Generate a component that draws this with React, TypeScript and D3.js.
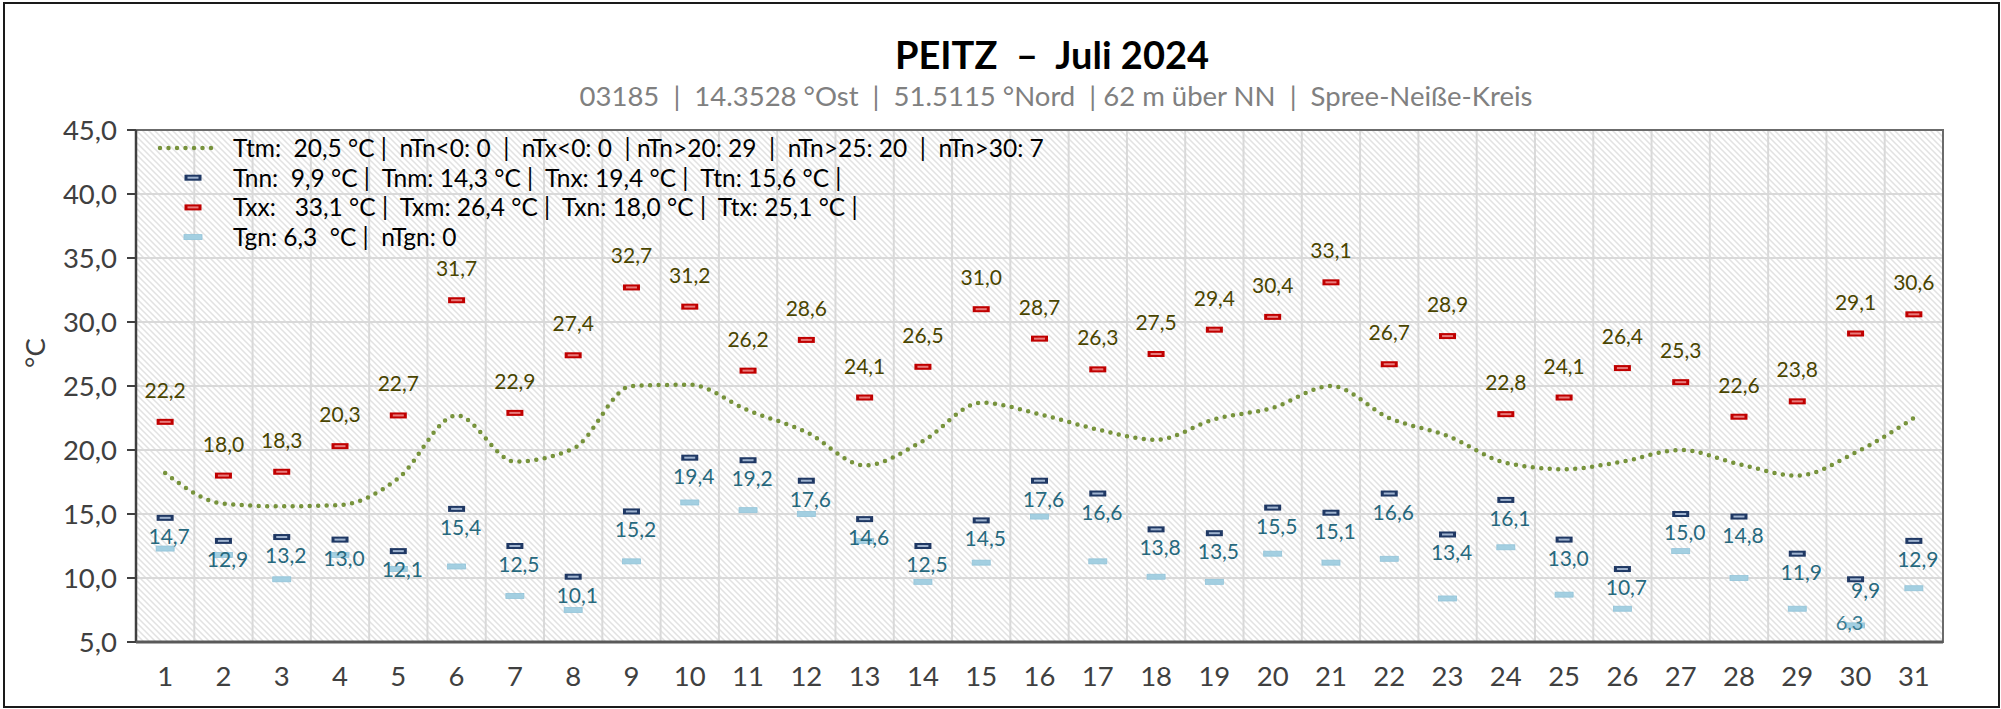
import React from 'react';
import * as d3 from 'd3';

// Peitz, Juli 2024 - Tageswerte
const days = d3.range(1, 32);
const tMax = [22.2, 18.0, 18.3, 20.3, 22.7, 31.7, 22.9, 27.4, 32.7, 31.2, 26.2, 28.6, 24.1, 26.5, 31.0, 28.7, 26.3, 27.5, 29.4, 30.4, 33.1, 26.7, 28.9, 22.8, 24.1, 26.4, 25.3, 22.6, 23.8, 29.1, 30.6];
const tMin = [14.7, 12.9, 13.2, 13.0, 12.1, 15.4, 12.5, 10.1, 15.2, 19.4, 19.2, 17.6, 14.6, 12.5, 14.5, 17.6, 16.6, 13.8, 13.5, 15.5, 15.1, 16.6, 13.4, 16.1, 13.0, 10.7, 15.0, 14.8, 11.9, 9.9, 12.9];
const tGround = [12.3, 11.8, 9.9, 11.8, 10.7, 10.9, 8.6, 7.5, 11.3, 15.9, 15.3, 15.0, 12.9, 9.7, 11.2, 14.8, 11.3, 10.1, 9.7, 11.9, 11.2, 11.5, 8.4, 12.4, 8.7, 7.6, 12.1, 10.0, 7.6, 6.3, 9.2];
const tMean = [18.2, 15.8, 15.6, 15.7, 17.8, 22.7, 19.1, 20.1, 25.0, 25.1, 23.1, 21.4, 18.8, 20.7, 23.7, 22.8, 21.6, 20.8, 22.4, 23.3, 25.0, 22.5, 21.1, 19.0, 18.5, 19.1, 20.0, 18.9, 18.0, 19.8, 22.5];
const yTicks = [5, 10, 15, 20, 25, 30, 35, 40, 45];

const title = 'PEITZ  –  Juli 2024';
const subtitle = '03185  |  14.3528 °Ost  |  51.5115 °Nord  | 62 m über NN  |  Spree-Neiße-Kreis';
const legendRows = [
  'Ttm:  20,5 °C |  nTn<0: 0  |  nTx<0: 0  | nTn>20: 29  |  nTn>25: 20  |  nTn>30: 7',
  'Tnn:  9,9 °C |  Tnm: 14,3 °C |  Tnx: 19,4 °C |  Ttn: 15,6 °C |',
  'Txx:   33,1 °C |  Txm: 26,4 °C |  Txn: 18,0 °C |  Ttx: 25,1 °C |',
  'Tgn: 6,3  °C |  nTgn: 0',
];

const W = 2001;
const H = 709;
const font = "Lato, 'Liberation Sans', sans-serif";
const fmt = (v: number) => v.toFixed(1).replace('.', ',');

const Dash = ({ cx, cy, kind }: { cx: number; cy: number; kind: string }) => {
  if (kind === 'max')
    return (
      <g>
        <rect x={cx - 8.5} y={cy - 3} width={17} height={6} fill="#c00000" />
        <rect x={cx - 5.5} y={cy - 1} width={11} height={2} fill="#e87b7b" />
      </g>
    );
  if (kind === 'min')
    return (
      <g>
        <rect x={cx - 8.5} y={cy - 3} width={17} height={6} fill="#1f3864" />
        <rect x={cx - 5.5} y={cy - 1} width={11} height={2} fill="#9fb3cf" />
      </g>
    );
  return <rect x={cx - 9} y={cy - 2.5} width={18} height={5} fill="#a3cfe1" stroke="#93c4d9" strokeWidth={0.8} />;
};

const App = () => {
  const left = 136, right = 1943, top = 130, bottom = 642;
  const x = d3.scaleBand<number>().domain(days).range([left, right]).padding(0);
  const y = d3.scaleLinear().domain([5, 45]).range([bottom, top]);
  const cx = (d: number) => (x(d) as number) + x.bandwidth() / 2;
  const line = d3
    .line<number>()
    .x((_, i) => cx(days[i]))
    .y((v) => y(v))
    .curve(d3.curveMonotoneX);

  const tGroundMin = d3.min(tGround) as number;
  const iGroundMin = tGround.indexOf(tGroundMin);
  // min label sits a little tighter and further right where it meets the ground-min label
  const minLabelDy = (i: number) => (i === iGroundMin ? 19 : 26);
  const minLabelDx = (i: number) => (i === iGroundMin ? 10 : 4);

  return (
    <div>
      <style>{'body{margin:0}'}</style>
      <svg width={W} height={H} style={{ display: 'block', fontFamily: font }}>
        <defs>
          <pattern id="hatch" patternUnits="userSpaceOnUse" width={6} height={6}>
            <rect width={6} height={6} fill="#ffffff" />
            <path d="M-1,-1L7,7M-1,5L1,7M5,-1L7,1" stroke="#e2e2e2" strokeWidth={1.5} />
          </pattern>
        </defs>
        <rect x={0} y={0} width={W} height={H} fill="#ffffff" />
        <rect x={4} y={3} width={W - 6} height={H - 5} fill="none" stroke="#1a1a1a" strokeWidth={2} />

        <text x={1052} y={69} textAnchor="middle" fontSize={38} fontWeight="bold" fill="#000" style={{ whiteSpace: 'pre' }}>
          {title}
        </text>
        <text x={1056} y={106} textAnchor="middle" fontSize={27.5} fill="#808080" style={{ whiteSpace: 'pre' }}>
          {subtitle}
        </text>

        {/* plot area */}
        <rect x={left} y={top} width={right - left} height={bottom - top} fill="url(#hatch)" />
        {yTicks.slice(1, -1).map((t) => (
          <line key={t} x1={left} x2={right} y1={y(t)} y2={y(t)} stroke="#d9d9d9" strokeWidth={2} />
        ))}
        {days.slice(1).map((d) => (
          <line key={d} x1={x(d)} x2={x(d)} y1={top} y2={bottom} stroke="#d9d9d9" strokeWidth={2} />
        ))}
        <rect x={left} y={top} width={right - left} height={bottom - top} fill="none" stroke="#6b6b6b" strokeWidth={2} />
        <line x1={left} x2={left} y1={top} y2={bottom} stroke="#404040" strokeWidth={2.5} />
        <line x1={left} x2={right} y1={bottom} y2={bottom} stroke="#595959" strokeWidth={3} />

        {yTicks.map((t) => (
          <g key={t}>
            <line x1={left - 9} x2={left} y1={y(t)} y2={y(t)} stroke="#404040" strokeWidth={2} />
            <text x={117} y={y(t)} dy="0.35em" textAnchor="end" fontSize={27.5} fill="#404040">
              {fmt(t)}
            </text>
          </g>
        ))}
        {days.map((d) => (
          <text key={d} x={cx(d)} y={686} textAnchor="middle" fontSize={27.5} fill="#404040">
            {d}
          </text>
        ))}
        <text transform="translate(45,353) rotate(-90)" textAnchor="middle" fontSize={27.5} fill="#404040">
          °C
        </text>

        {/* daily mean */}
        <path
          d={line(tMean) as string}
          fill="none"
          stroke="#77933c"
          strokeWidth={4.5}
          strokeDasharray="0 8.5"
          strokeLinecap="round"
        />

        {days.map((d, i) => (
          <g key={d}>
            <Dash cx={cx(d)} cy={y(tGround[i])} kind="ground" />
            <Dash cx={cx(d)} cy={y(tMin[i])} kind="min" />
            <Dash cx={cx(d)} cy={y(tMax[i])} kind="max" />
            <text x={cx(d)} y={y(tMax[i]) - 24} textAnchor="middle" fontSize={21} fill="#4a4500">
              {fmt(tMax[i])}
            </text>
            <text x={cx(d) + minLabelDx(i)} y={y(tMin[i]) + minLabelDy(i)} textAnchor="middle" fontSize={21} fill="#27697e">
              {fmt(tMin[i])}
            </text>
          </g>
        ))}
        <text x={cx(days[iGroundMin]) - 6} y={y(tGroundMin) + 5} textAnchor="middle" fontSize={20} fill="#3a7d93">
          {fmt(tGroundMin)}
        </text>

        {/* legend */}
        {legendRows.map((row, i) => {
          const ly = 148 + i * 29.7;
          return (
            <g key={i}>
              {i === 0 ? (
                <line x1={160} x2={216} y1={ly} y2={ly} stroke="#77933c" strokeWidth={4.5} strokeDasharray="0 8.5" strokeLinecap="round" />
              ) : (
                <Dash cx={193} cy={ly} kind={i === 1 ? 'min' : i === 2 ? 'max' : 'ground'} />
              )}
              <text x={233} y={ly} dy="0.36em" fontSize={24.5} fill="#000" style={{ whiteSpace: 'pre' }}>
                {row}
              </text>
            </g>
          );
        })}
      </svg>
    </div>
  );
};

export default App;
